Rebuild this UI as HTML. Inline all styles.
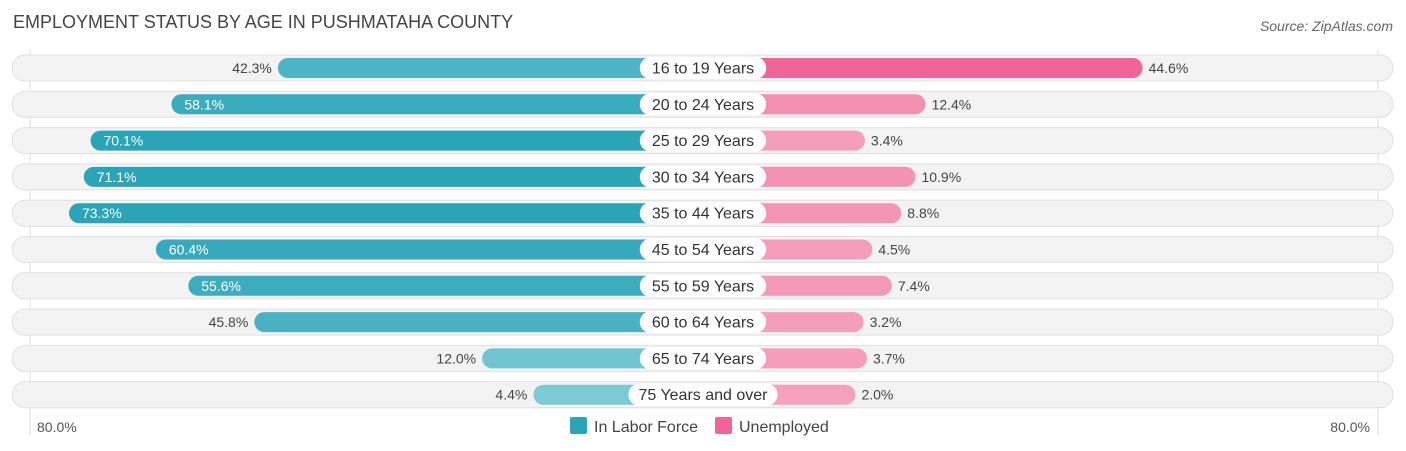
<!DOCTYPE html>
<html><head><meta charset="utf-8"><style>
body{margin:0;background:#fff;font-family:"Liberation Sans",sans-serif;}
#c{position:relative;width:1406px;height:451px;overflow:hidden}
</style></head><body>
<div id="c">
<svg id="s" width="1406" height="451">
<text x="13" y="28" font-size="18" fill="#444">EMPLOYMENT STATUS BY AGE IN PUSHMATAHA COUNTY</text>
<text x="1393" y="31" font-size="14" fill="#666" font-style="italic" text-anchor="end">Source: ZipAtlas.com</text>
<line x1="30" y1="50" x2="30" y2="436" stroke="#ddd"/>
<line x1="1378" y1="50" x2="1378" y2="436" stroke="#ddd"/>
<g id="rows"></g>
<text x="37" y="432" font-size="14" fill="#555">80.0%</text>
<text x="1370" y="432" font-size="14" fill="#555" text-anchor="end">80.0%</text>
<rect x="570" y="417" width="17" height="17" rx="2" fill="#2aa5b8"/>
<text x="594" y="432" font-size="16" fill="#444">In Labor Force</text>
<rect x="715" y="417" width="17" height="17" rx="2" fill="#f06595"/>
<text x="739" y="432" font-size="16" fill="#444">Unemployed</text>
</svg></div>
<script>
const categories=["16 to 19 Years","20 to 24 Years","25 to 29 Years","30 to 34 Years","35 to 44 Years","45 to 54 Years","55 to 59 Years","60 to 64 Years","65 to 74 Years","75 Years and over"];
const laborForce=[42.3,58.1,70.1,71.1,73.3,60.4,55.6,45.8,12.0,4.4];
const unemployed=[44.6,12.4,3.4,10.9,8.8,4.5,7.4,3.2,3.7,2.0];
const NS="http://www.w3.org/2000/svg";
const g=document.getElementById('rows');
const CX=703,LO=563,RO=842,K=6.74;
const xl=v=>LO-v*K, xr=v=>RO+v*K;
function mk(t,a){const e=document.createElementNS(NS,t);for(const k in a)e.setAttribute(k,a[k]);g.appendChild(e);return e;}
function mix(a,b,t){return 'rgb('+a.map((v,i)=>Math.round(v+(b[i]-v)*t)).join(',')+')';}
categories.forEach((c,i)=>{
 const y=68+i*36.3;
 const bg=mk('rect',{x:12,y:y-13,width:1381,height:26,rx:13,fill:'#f3f3f3',stroke:'#e0e0e0'});
 
 
 const lv=laborForce[i],uv=unemployed[i];
 const t=Math.min(1,lv/70);
 const lb=mk('rect',{x:xl(lv),y:y-10,width:CX-xl(lv),height:20,rx:10,fill:mix([128,204,214],[42,165,184],t)});
 
 
 const up=Math.min(1,uv/40);
 const ub=mk('rect',{x:CX,y:y-10,width:xr(uv)-CX,height:20,rx:10,fill:mix([245,163,191],[240,101,149],up)});
 
 
 const inside=lv>50;
 const lt=mk('text',{x:inside?xl(lv)+13:xl(lv)-6,y:y+5,'font-size':14,fill:inside?'#fff':'#444','text-anchor':inside?'start':'end'});
 lt.textContent=lv.toFixed(1)+'%';
 
 
 const ut=mk('text',{x:xr(uv)+6,y:y+5,'font-size':14,fill:'#444'});
 ut.textContent=uv.toFixed(1)+'%';
 
 
 const w=c.length*7.6+20;
 const p=mk('rect',{x:CX-w/2,y:y-11,width:w,height:22,rx:11,fill:'#fff'});
 
 
 const ct=mk('text',{x:CX,y:y+5.5,'font-size':16,fill:'#333','text-anchor':'middle'});
 ct.textContent=c;
 
 
});
</script>
</body></html>
